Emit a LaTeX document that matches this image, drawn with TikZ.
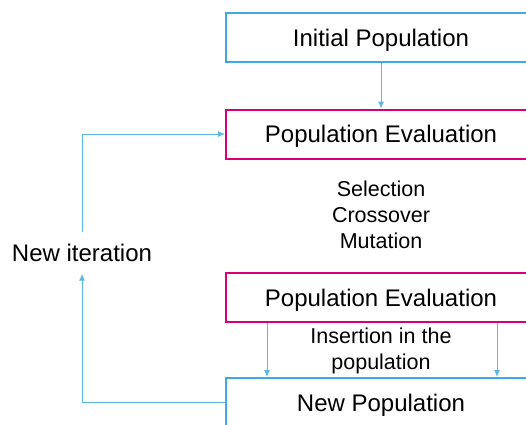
\documentclass[tikz,border=0pt]{standalone}
\usepackage{fontspec}
\setmainfont{Liberation Sans}
\usepackage{xcolor}
\usetikzlibrary{arrows.meta,positioning}

\definecolor{popblue}{RGB}{62,170,224}
\definecolor{evalpink}{RGB}{214,0,116}
\definecolor{linkblue}{RGB}{90,184,230}

\tikzset{
    popbox/.style={draw=popblue, line width=2pt, minimum width=310pt, minimum height=49pt, inner sep=0pt, text depth=0pt, font=\fontsize{24}{28}\selectfont},
    evalbox/.style={popbox, draw=evalpink},
    steptext/.style={align=center, inner sep=0pt, font=\fontsize{21.5}{26}\selectfont},
    link/.style={draw=linkblue, line width=1pt, -{Latex[length=7pt,width=6pt]}}
}

\begin{document}
\begin{tikzpicture}[x=1pt,y=-1pt]
            \useasboundingbox (0,0) rectangle (526,424);
            \clip (0,0) rectangle (526,424);
            \node[popbox] at (381,37.5) (init) {Initial Population};
            \node[evalbox] at (381,134) (eval1) {Population Evaluation};
            \node[steptext] at (381,215) (ops) {Selection\\Crossover\\Mutation};
            \node[evalbox] at (381,297.5) (eval2) {Population Evaluation};
            \node[steptext] at (381,351) (insert) {Insertion in the\\population};
            \node[popbox] at (381,402.5) (newpop) {New Population};
            \node[inner sep=0pt, minimum height=41pt, font=\fontsize{24}{28}\selectfont] at (82,253) (iter) {New iteration};
            \draw[link] (init) -- (eval1);
            \draw[link] ([xshift=42pt]eval2.south west) -- ([xshift=42pt]newpop.north west);
            \draw[link] ([xshift=-40pt]eval2.south east) -- ([xshift=-40pt]newpop.north east);
            \draw[link] (newpop.west) -| (iter.south);
            \draw[link] (iter.north) |- (eval1.west);
        \end{tikzpicture}
\end{document}
